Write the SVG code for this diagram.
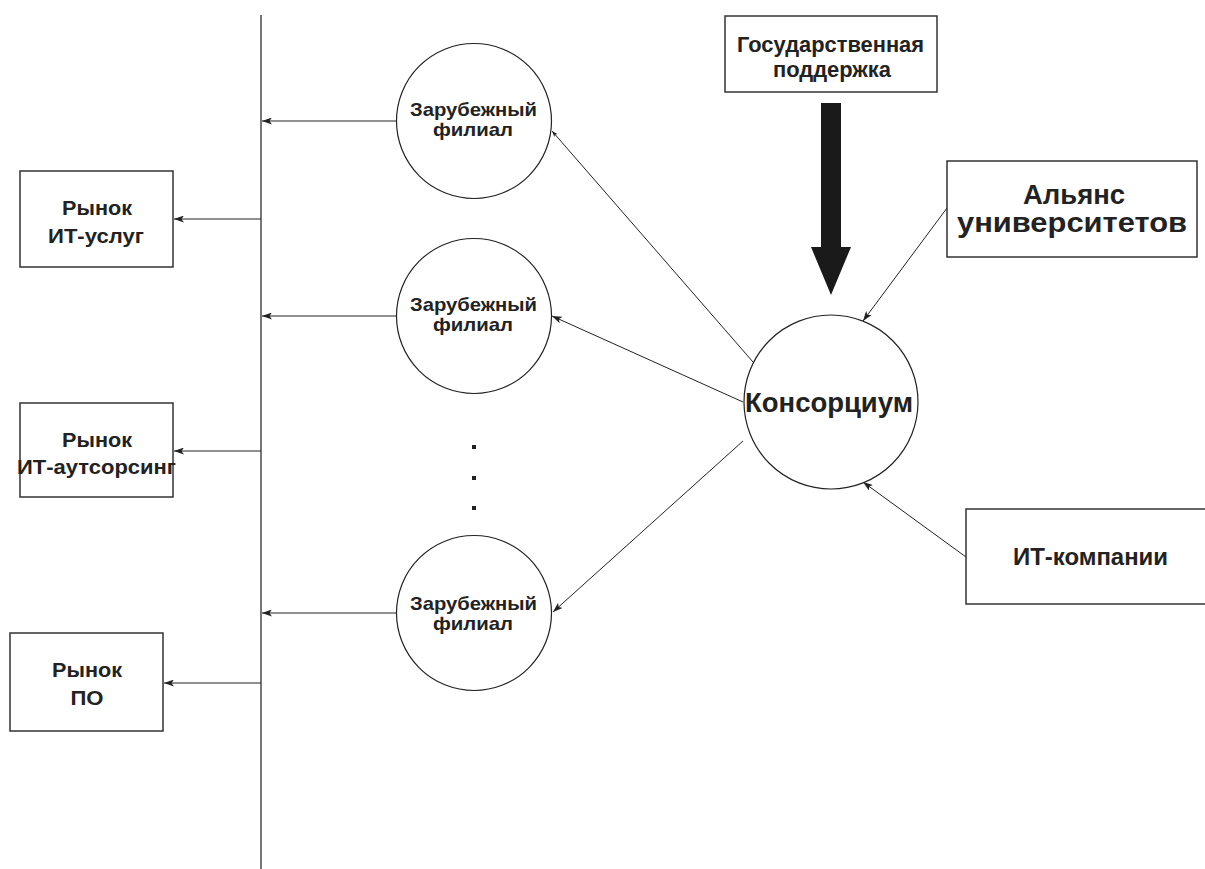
<svg xmlns="http://www.w3.org/2000/svg" width="1205" height="869" viewBox="0 0 1205 869">
<style>
.box{fill:#fff;stroke:#333;stroke-width:1.5}
.node{fill:#fff;stroke:#222;stroke-width:1.2}
.ln{stroke:#222;stroke-width:1;fill:none}
.t{font-family:"Liberation Sans",Arial,sans-serif;font-weight:bold;fill:#222;text-anchor:middle}
</style>
<defs>
<marker id="arr" viewBox="0 0 10 7" refX="10" refY="3.5" markerWidth="10" markerHeight="7" orient="auto" markerUnits="userSpaceOnUse">
<path d="M0,0 L10,3.5 L0,7 L2.5,3.5 z" fill="#222"/>
</marker>
<marker id="arrs" viewBox="0 0 10 7" refX="10" refY="3.5" markerWidth="6" markerHeight="4.2" orient="auto" markerUnits="userSpaceOnUse">
<path d="M0,0 L10,3.5 L0,7 L2.5,3.5 z" fill="#222"/>
</marker>
</defs>
<rect width="1205" height="869" fill="#fff"/>

<g id="connectors">
<line x1="261" y1="15" x2="261" y2="869" stroke="#555" stroke-width="1.6"/>
<line class="ln" x1="396" y1="121" x2="262" y2="121" marker-end="url(#arr)"/>
<line class="ln" x1="396" y1="316" x2="262" y2="316" marker-end="url(#arr)"/>
<line class="ln" x1="396" y1="613" x2="262" y2="613" marker-end="url(#arr)"/>
<line class="ln" x1="261" y1="219" x2="174" y2="219" marker-end="url(#arr)"/>
<line class="ln" x1="261" y1="451" x2="174" y2="451" marker-end="url(#arr)"/>
<line class="ln" x1="261" y1="683" x2="164" y2="683" marker-end="url(#arr)"/>
<line class="ln" x1="753" y1="362" x2="552" y2="131" marker-end="url(#arrs)"/>
<line class="ln" x1="743" y1="402" x2="552" y2="316" marker-end="url(#arr)"/>
<line class="ln" x1="743" y1="441" x2="553" y2="612" marker-end="url(#arr)"/>
<line class="ln" x1="947" y1="208" x2="863" y2="321" marker-end="url(#arr)"/>
<line class="ln" x1="966" y1="557" x2="863" y2="482" marker-end="url(#arr)"/>
<polygon points="821,103 841,103 841,247 851,247 831,295 811,247 821,247" fill="#1a1a1a"/>
</g>

<g id="market-services">
<rect class="box" x="20" y="171" width="153" height="96"/>
<text class="t" x="97" y="215" font-size="20" textLength="70" lengthAdjust="spacingAndGlyphs">Рынок</text>
<text class="t" x="96" y="243" font-size="20" textLength="96" lengthAdjust="spacingAndGlyphs">ИТ-услуг</text>
</g>
<g id="market-outsourcing">
<rect class="box" x="20" y="403" width="153" height="94"/>
<text class="t" x="97" y="447" font-size="20" textLength="70" lengthAdjust="spacingAndGlyphs">Рынок</text>
<text class="t" x="96.5" y="474" font-size="20" textLength="159" lengthAdjust="spacingAndGlyphs">ИТ-аутсорсинг</text>
</g>
<g id="market-software">
<rect class="box" x="10" y="633" width="153" height="98"/>
<text class="t" x="87" y="677" font-size="20" textLength="70" lengthAdjust="spacingAndGlyphs">Рынок</text>
<text class="t" x="87" y="705" font-size="20" textLength="33" lengthAdjust="spacingAndGlyphs">ПО</text>
</g>

<g id="branch-1">
<circle class="node" cx="474" cy="121" r="77.5"/>
<text class="t" x="473.5" y="116" font-size="19" textLength="127" lengthAdjust="spacingAndGlyphs">Зарубежный</text>
<text class="t" x="473" y="136" font-size="19" textLength="80" lengthAdjust="spacingAndGlyphs">филиал</text>
</g>
<g id="branch-2">
<circle class="node" cx="474" cy="316" r="77.5"/>
<text class="t" x="473.5" y="311" font-size="19" textLength="127" lengthAdjust="spacingAndGlyphs">Зарубежный</text>
<text class="t" x="473" y="331" font-size="19" textLength="80" lengthAdjust="spacingAndGlyphs">филиал</text>
</g>
<g id="dots">
<rect x="472" y="445" width="4" height="4" fill="#222"/>
<rect x="472" y="476" width="4" height="4" fill="#222"/>
<rect x="472" y="506" width="4" height="4" fill="#222"/>
</g>
<g id="branch-3">
<circle class="node" cx="474" cy="613" r="77.5"/>
<text class="t" x="473.5" y="610" font-size="19" textLength="127" lengthAdjust="spacingAndGlyphs">Зарубежный</text>
<text class="t" x="473" y="630" font-size="19" textLength="80" lengthAdjust="spacingAndGlyphs">филиал</text>
</g>

<g id="state-support">
<rect class="box" x="725" y="16" width="212" height="76"/>
<text class="t" x="830.5" y="52" font-size="22" textLength="187" lengthAdjust="spacingAndGlyphs">Государственная</text>
<text class="t" x="832" y="77" font-size="22" textLength="118" lengthAdjust="spacingAndGlyphs">поддержка</text>
</g>
<g id="university-alliance">
<rect class="box" x="947" y="161" width="250" height="96"/>
<text class="t" x="1074" y="204" font-size="27" textLength="102" lengthAdjust="spacingAndGlyphs">Альянс</text>
<text class="t" x="1072" y="232" font-size="27" textLength="230" lengthAdjust="spacingAndGlyphs">университетов</text>
</g>
<g id="consortium">
<circle class="node" cx="831" cy="402" r="87"/>
<text class="t" x="829" y="412" font-size="27" textLength="168" lengthAdjust="spacingAndGlyphs">Консорциум</text>
</g>
<g id="it-companies">
<rect class="box" x="966" y="509" width="245" height="95"/>
<text class="t" x="1090.5" y="565" font-size="23" textLength="155" lengthAdjust="spacingAndGlyphs">ИТ-компании</text>
</g>
</svg>
